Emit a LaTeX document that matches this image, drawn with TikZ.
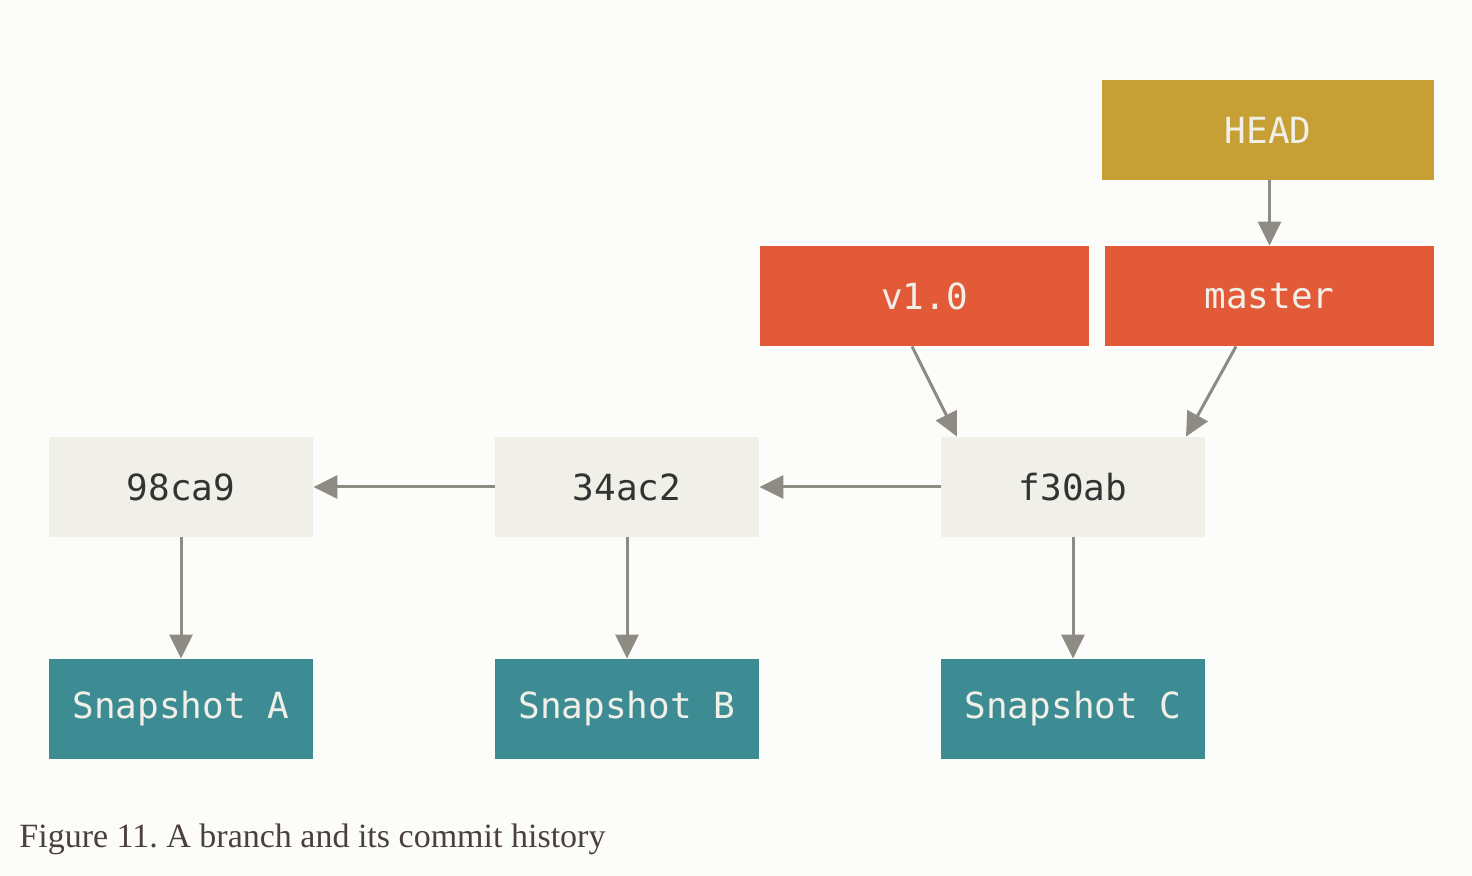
\documentclass[tikz,border=0pt]{standalone}
\usepackage{fontspec}
\setmainfont{Liberation Serif}
\setmonofont{DejaVu Sans Mono}
\usetikzlibrary{positioning,calc,arrows.meta}
\definecolor{bgcol}{HTML}{FCFCFA}
\definecolor{commitcol}{HTML}{F0EFE8}
\definecolor{snapcol}{HTML}{3E8C93}
\definecolor{branchcol}{HTML}{E35A38}
\definecolor{headcol}{HTML}{C6A035}
\definecolor{arrowcol}{HTML}{8E8A84}
\definecolor{captioncol}{HTML}{4A403C}

\begin{document}
\frenchspacing
\begin{tikzpicture}[x=0.5pt, y=-0.5pt,
    box/.style={minimum width=132pt, minimum height=50pt, inner sep=0pt, font=\ttfamily\fontsize{18}{20}\selectfont},
    commit/.style={box, fill=commitcol, text=black!80},
    snap/.style={box, fill=snapcol, text=commitcol},
    branch/.style={box, minimum width=164.5pt, fill=branchcol, text=commitcol},
    ptr/.style={draw=arrowcol, line width=1.5pt, -{Triangle[length=12pt, width=11.5pt]}}]
    \useasboundingbox[fill=bgcol] (0,0) rectangle (1472,876);

    % Commits
    \node[commit] (c1) at (181,487) {98ca9};
    \node[commit] (c2) at (627,487) {34ac2};
    \node[commit] (c3) at (1073,487) {f30ab};

    % Snapshots
    \node[snap] (s1) at (181,709) {Snapshot A};
    \node[snap] (s2) at (627,709) {Snapshot B};
    \node[snap] (s3) at (1073,709) {Snapshot C};

    % Branches and HEAD
    \node[branch] (v10) at (924.5,296) {v1.0};
    \node[branch] (master) at (1269.5,296) {master};
    \node[box, minimum width=166pt, fill=headcol, text=commitcol] (head) at (1268,130) {HEAD};

    % Pointers
    \draw[ptr] (c2.west) -- (c1.east);
    \draw[ptr] (c3.west) -- (c2.east);
    \foreach \c/\s in {c1/s1, c2/s2, c3/s3}
        \draw[ptr] (\c.south) -- (\s.north);
    \draw[ptr] ([xshift=-6.25pt]v10.south) -- ([xshift=-58pt]c3.north);
    \draw[ptr] ([xshift=-16.75pt]master.south) -- ([xshift=56.5pt]c3.north);
    \draw[ptr] (head.south -| master.north) -- (master.north);

    % Caption
    \node[anchor=base west, inner sep=0pt, text=captioncol, font=\fontsize{17}{20}\selectfont] (caption) at (19,847)
        {Figure 11. A branch and its commit history};
\end{tikzpicture}
\end{document}
